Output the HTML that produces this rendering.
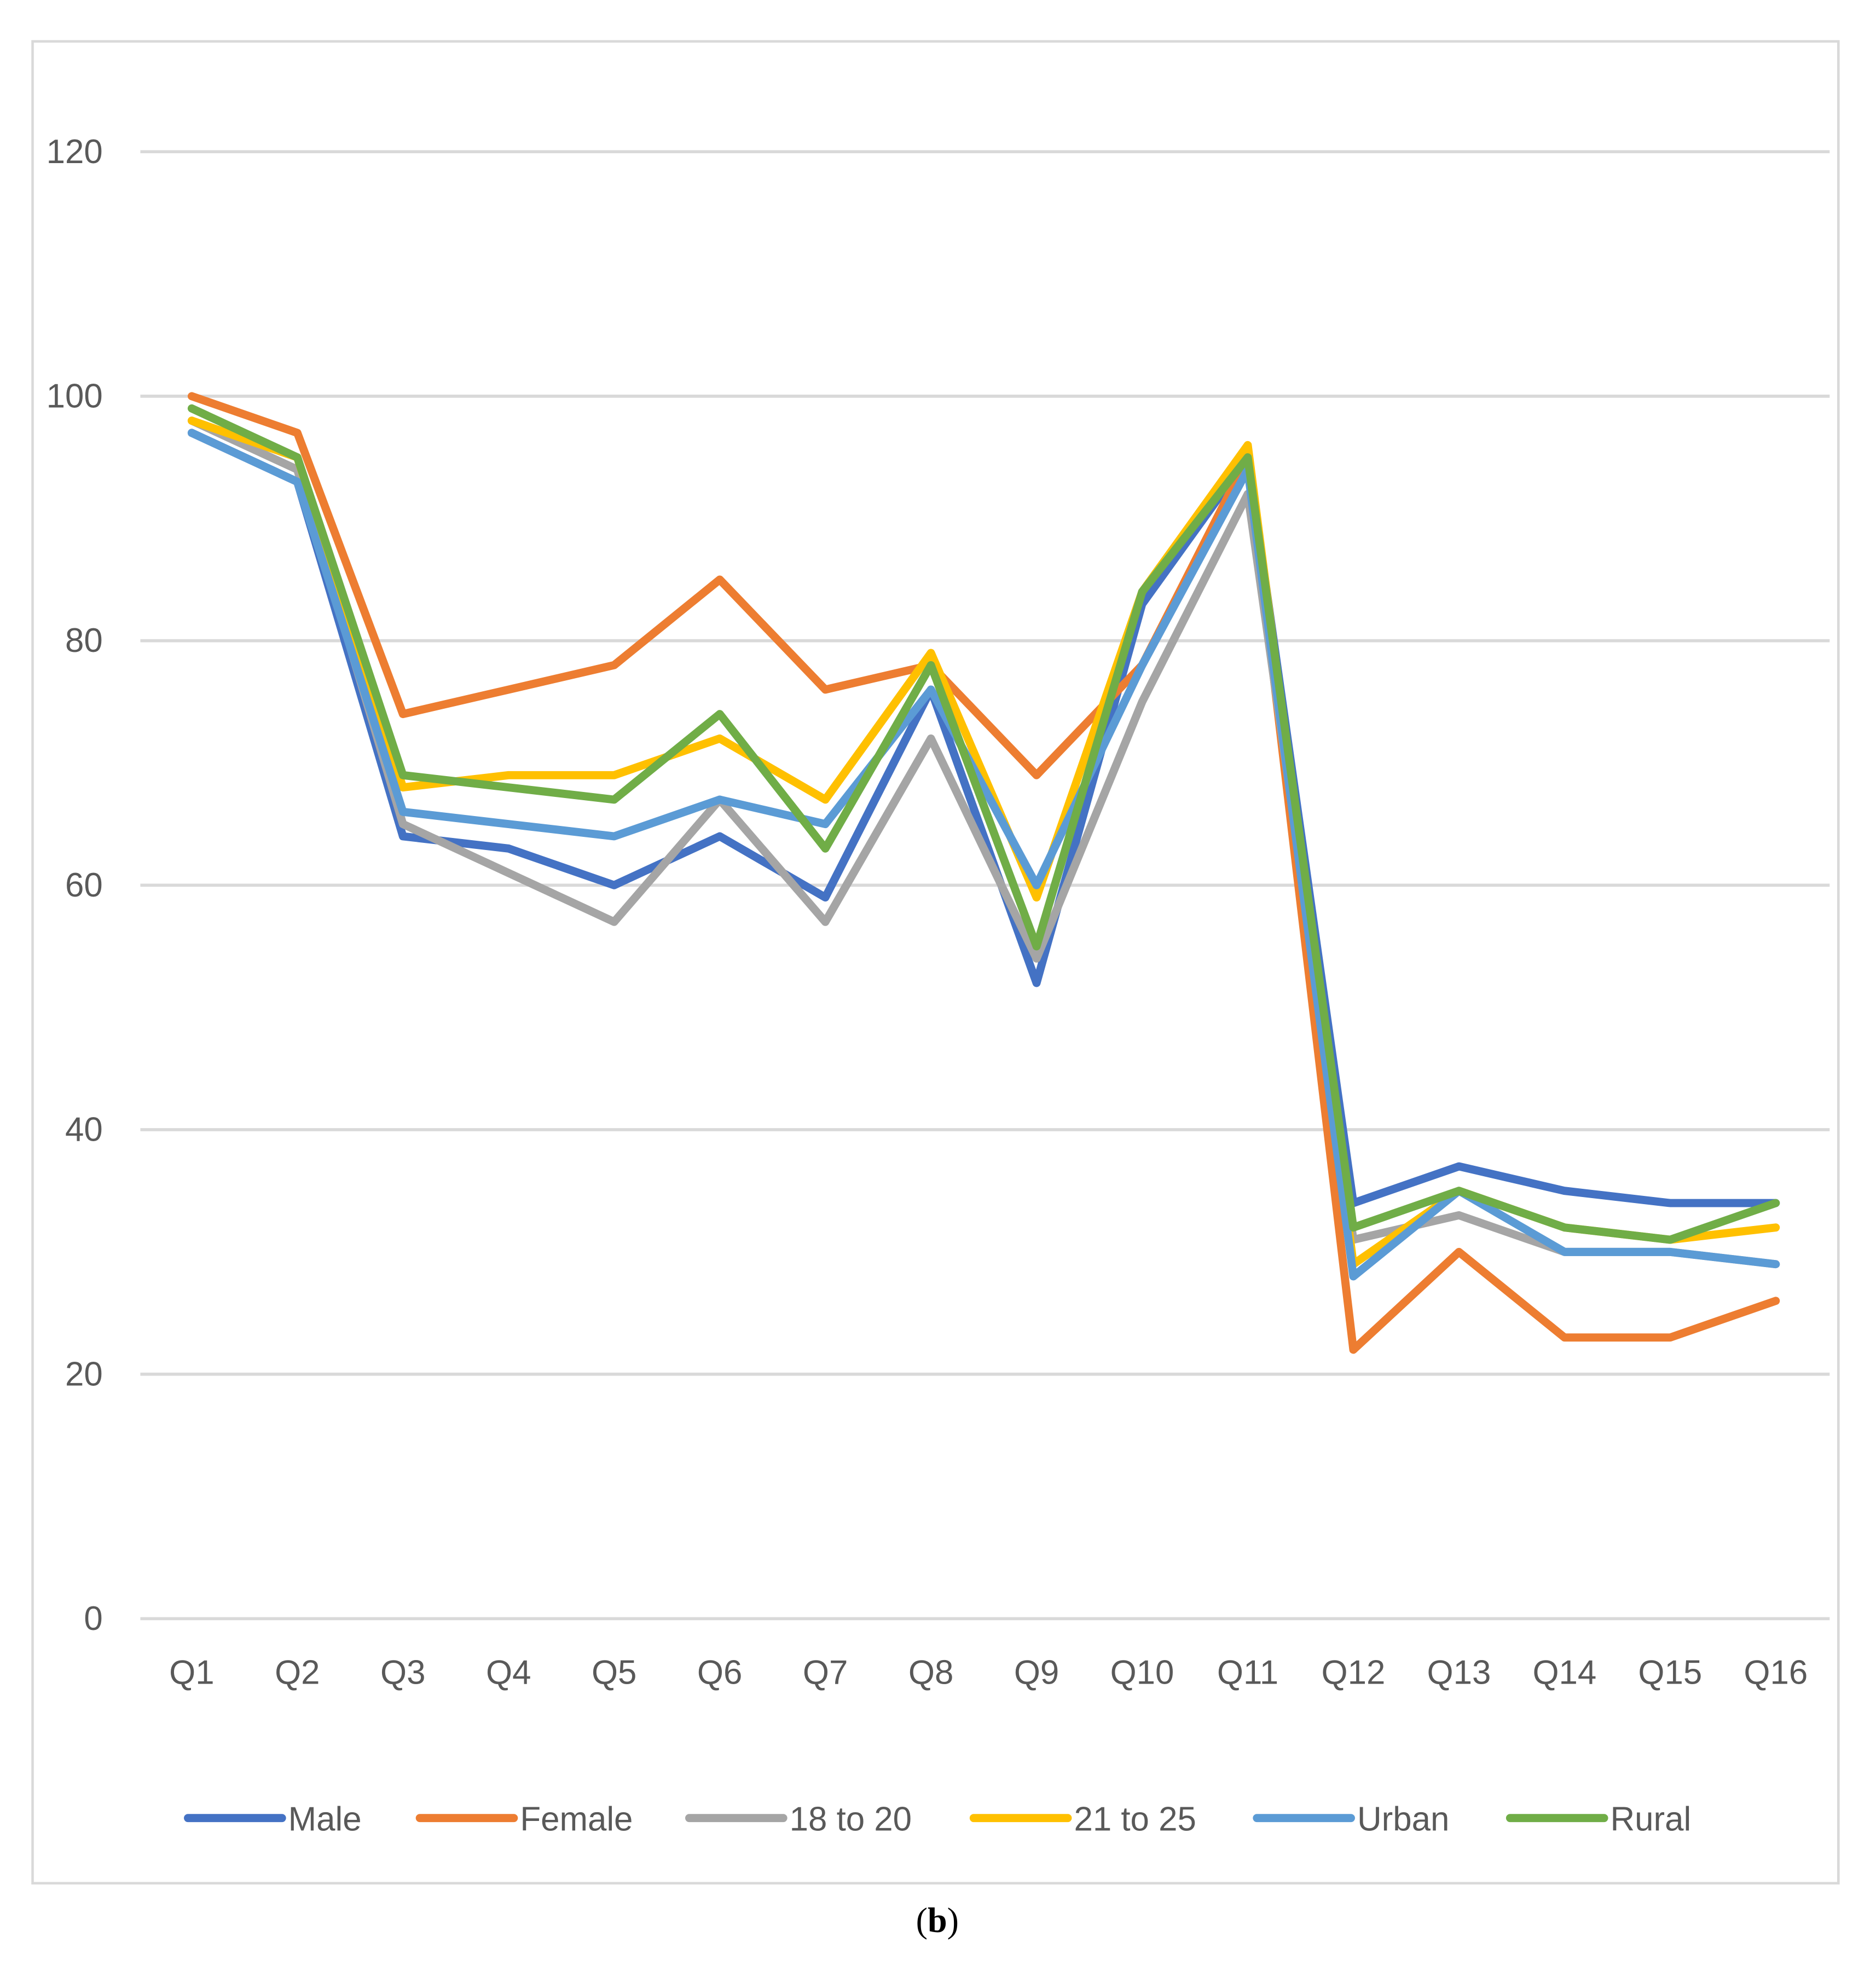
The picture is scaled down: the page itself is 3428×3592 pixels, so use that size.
<!DOCTYPE html>
<html><head><meta charset="utf-8"><style>
html,body{margin:0;padding:0;background:#fff;}
svg{display:block;}
text{font-family:"Liberation Sans",sans-serif;}
</style></head><body>
<svg id="chart" width="3428" height="3592" viewBox="0 0 1497 1568" preserveAspectRatio="none" xmlns="http://www.w3.org/2000/svg">
<rect x="0" y="0" width="1497" height="1568" fill="#fff"/>
<rect x="26" y="33" width="1441" height="1469" fill="none" stroke="#d9d9d9" stroke-width="2"/>
<g id="grid"></g><g id="yticks"></g><g id="xticks"></g><g id="series"></g><g id="legend"></g>
<text x="748" y="1541" text-anchor="middle" style="font-family:'Liberation Serif',serif" font-size="28" fill="#000">(<tspan font-weight="bold">b</tspan>)</text>
</svg>
<script>
const categories=["Q1","Q2","Q3","Q4","Q5","Q6","Q7","Q8","Q9","Q10","Q11","Q12","Q13","Q14","Q15","Q16"];
const yTicks=[0,20,40,60,80,100,120];
const seriesNames=["Male","Female","18 to 20","21 to 25","Urban","Rural"];
const male=[97,93,64,63,60,64,59,76,52,83,95,34,37,35,34,34];
const female=[100,97,74,76,78,85,76,78,69,78,95,22,30,23,23,26];
const age18to20=[98,94,65,61,57,67,57,72,54,75,92,31,33,30,30,29];
const age21to25=[98,95,68,69,69,72,67,79,59,84,96,29,35,32,31,32];
const urban=[97,93,66,65,64,67,65,76,60,78,94,28,35,30,30,29];
const rural=[99,95,69,68,67,74,63,78,55,84,95,32,35,32,31,34];
const seriesData=[male,female,age18to20,age21to25,urban,rural];
const colors=["#4472c4","#ed7d31","#a5a5a5","#ffc000","#5b9bd5","#70ad47"];
const NS="http://www.w3.org/2000/svg";
const y=v=>1291-(v/120)*1170;
const x=i=>153+i*(1417-153)/15;
function mk(t,a,p){const e=document.createElementNS(NS,t);for(const k in a)e.setAttribute(k,a[k]);p.appendChild(e);return e;}
const grid=document.getElementById('grid'),yt=document.getElementById('yticks'),xt=document.getElementById('xticks'),sg=document.getElementById('series'),lg=document.getElementById('legend');
yTicks.forEach(v=>{
 const l=mk('line',{x1:112,x2:1460,y1:y(v),y2:y(v),stroke:'#d9d9d9','stroke-width':2.5},grid);
 
 
 const t=mk('text',{x:82,y:y(v)+9,'text-anchor':'end','font-size':27,fill:'#595959'},yt);
 t.textContent=v;
 
 
});
categories.forEach((c,i)=>{
 const t=mk('text',{x:x(i),y:1343,'text-anchor':'middle','font-size':27,fill:'#595959'},xt);
 t.textContent=c;
 
 
});
seriesData.forEach((d,s)=>{
 const p=mk('polyline',{points:d.map((v,i)=>x(i)+','+y(v)).join(' '),fill:'none',stroke:colors[s],'stroke-width':6.5,'stroke-linejoin':'round','stroke-linecap':'round'},sg);
 
 
});
const lx=[150,335,550,777,1003,1205];
seriesNames.forEach((n,s)=>{
 const g=mk('g',{},lg);
 
 
 mk('line',{x1:lx[s],x2:lx[s]+75,y1:1450,y2:1450,stroke:colors[s],'stroke-width':6.5,'stroke-linecap':'round'},g);
 const t=mk('text',{x:lx[s]+80,y:1460,'font-size':27,fill:'#595959'},g);
 t.textContent=n;
});
</script>
</body></html>
